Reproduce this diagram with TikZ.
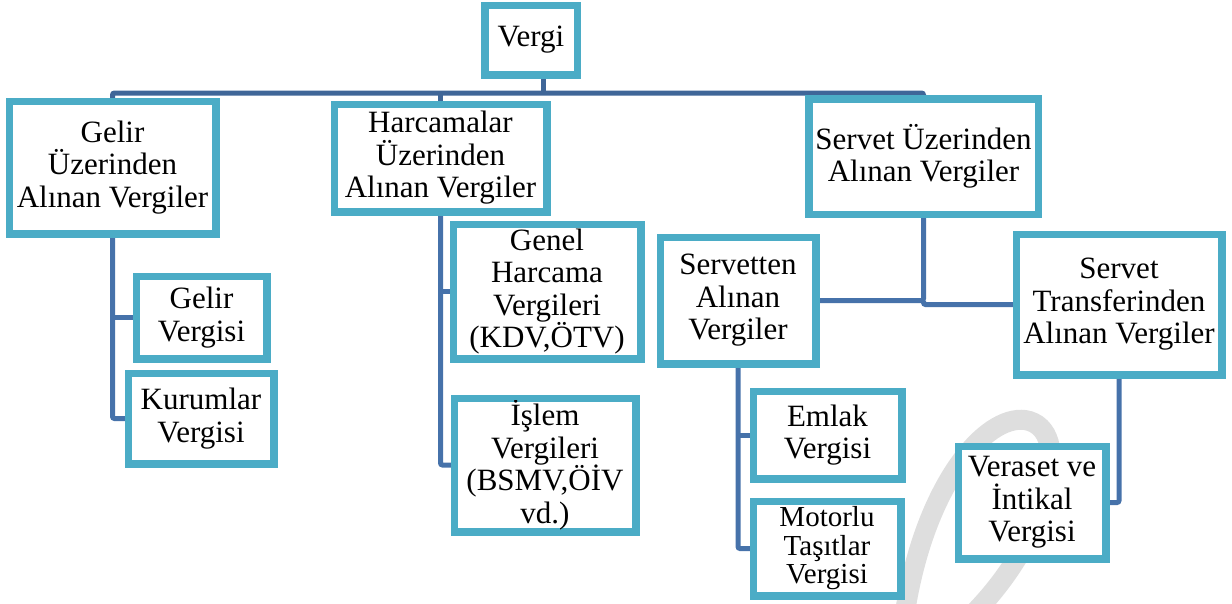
\documentclass[tikz,border=0pt]{standalone}
\usepackage{fontspec}
\setmainfont{LiberationSerif}[Extension=.ttf, UprightFont=*-Regular, BoldFont=*-Bold]
\definecolor{boxc}{HTML}{4BACC6}
\definecolor{connc}{HTML}{4672AA}
\definecolor{busc}{HTML}{3F6698}
\definecolor{wmc}{HTML}{DEDEDE}
\tikzset{
  box/.style={draw=boxc, line width=5pt, fill=white, inner sep=0pt, align=center,
    font=\rmfamily\fontsize{31}{32.5}\selectfont},
  conn/.style={draw=connc, line width=5pt, rounded corners=2pt},
  busline/.style={draw=busc, line width=5pt, rounded corners=2pt},
  wmark/.style={draw=wmc, line width=20pt}
}
\begin{document}
\begin{tikzpicture}[x=1pt,y=-1pt]
\useasboundingbox (0,0) rectangle (1232,603);
% watermark
\draw[wmark] (905,612) .. controls (925,485) and (985,415) .. (1025,420)
  .. controls (1075,428) and (1050,535) .. (975,612);
% nodes
\node[box, minimum width=90pt, minimum height=67pt] (vergi) at (531,40) {Vergi};
\node[box, minimum width=204pt, minimum height=130pt] (gelirU) at (112.5,167.5) {Gelir\\Üzerinden\\Alınan Vergiler};
\node[box, minimum width=210pt, minimum height=105pt] (harc) at (440.5,158) {Harcamalar\\Üzerinden\\Alınan Vergiler};
\node[box, minimum width=227pt, minimum height=113pt] (servet) at (923.5,156.5) {Servet Üzerinden\\Alınan Vergiler};
\node[box, minimum width=128pt, minimum height=80pt] (gelirV) at (201.5,317.5) {Gelir\\Vergisi};
\node[box, minimum width=143pt, minimum height=88pt] (kurum) at (201,418.5) {Kurumlar\\Vergisi};
\node[box, minimum width=185pt, minimum height=132pt] (genel) at (547,291.5) {Genel\\Harcama\\Vergileri\\(KDV,ÖTV)};
\node[box, minimum width=179pt, minimum height=131pt] (islem) at (545,465) {İşlem\\Vergileri\\(BSMV,ÖİV\\vd.)};
\node[box, minimum width=153pt, minimum height=124pt] (servetten) at (738,300.5) {Servetten\\Alınan\\Vergiler};
\node[box, minimum width=203pt, minimum height=138pt] (transfer) at (1119,304.5) {Servet\\Transferinden\\Alınan Vergiler};
\node[box, minimum width=146pt, minimum height=85pt] (emlak) at (827.5,435) {Emlak\\Vergisi};
\node[box, minimum width=145pt, minimum height=92pt, font=\rmfamily\fontsize{29}{28.5}\selectfont] (motorlu) at (827,548.5) {Motorlu\\Taşıtlar\\Vergisi};
\node[box, minimum width=145pt, minimum height=110pt] (veraset) at (1032,502.5) {Veraset ve\\İntikal\\Vergisi};
\coordinate (bus) at (543,93);
% connectors
\draw[busline] (bus |- vergi.south) -- (bus);
\draw[busline] (gelirU.north) -- (gelirU.north |- bus) -- (servet.north |- bus) -- (servet.north);
\draw[busline] (harc.north) -- (harc.north |- bus);
\draw[conn] (gelirU.south) -- (gelirU.south |- kurum.west) -- (kurum.west);
\draw[conn] (gelirU.south |- gelirV.west) -- (gelirV.west);
\draw[conn] (harc.south) -- (harc.south |- islem.west) -- (islem.west);
\draw[conn] (harc.south |- genel.west) -- (genel.west);
\draw[conn] (servetten.east) -- (servet.south |- servetten.east) -- (servet.south);
\draw[conn] (servet.south |- servetten.east) -- (servet.south |- transfer.west) -- (transfer.west);
\draw[conn] (servetten.south) -- (servetten.south |- motorlu.west) -- (motorlu.west);
\draw[conn] (servetten.south |- emlak.west) -- (emlak.west);
\draw[conn] (transfer.south) -- (transfer.south |- veraset.east) -- (veraset.east);
% redraw box borders over connector ends
\foreach \n in {vergi,gelirU,harc,servet,gelirV,kurum,genel,islem,servetten,transfer,emlak,motorlu,veraset}
  \draw[draw=boxc, line width=5pt] (\n.north west) rectangle (\n.south east);
\end{tikzpicture}
\end{document}
